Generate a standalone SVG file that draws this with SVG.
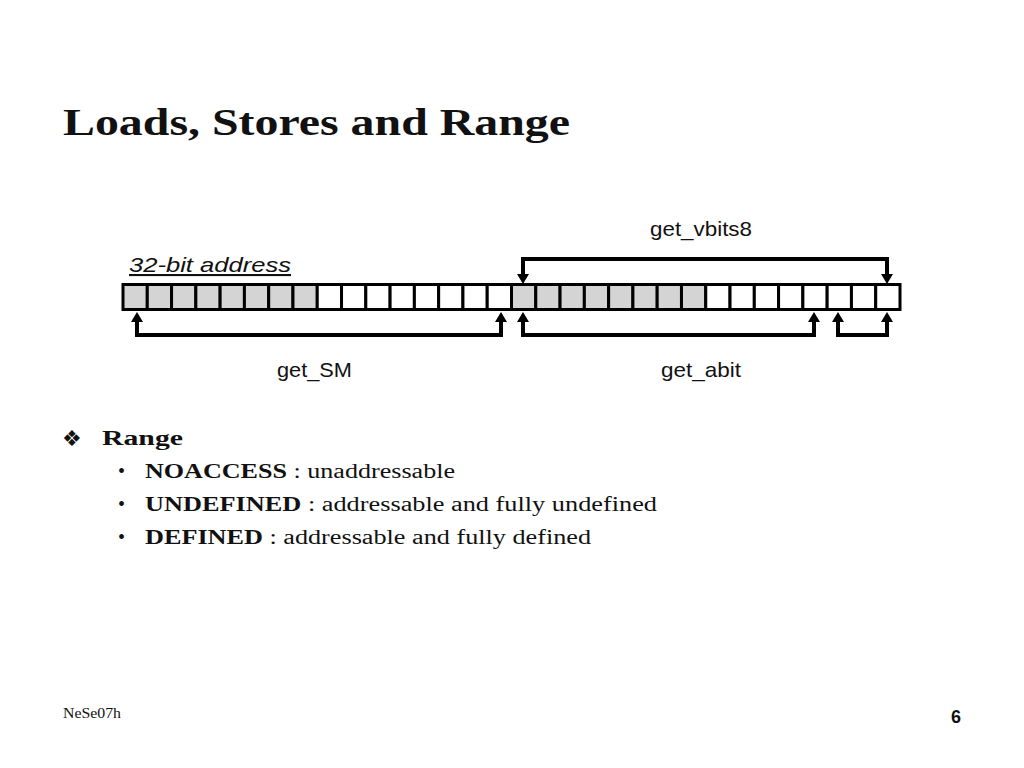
<svg xmlns="http://www.w3.org/2000/svg" width="1024" height="768" viewBox="0 0 1024 768">
<style>
.title{font-family:"Liberation Serif",serif;font-weight:bold;font-size:37px;fill:#111}
.lbl{font-family:"Liberation Sans",Arial,sans-serif;font-size:21px;fill:#111}
.body{font-family:"Liberation Serif",serif;font-size:20px;fill:#111}
.b{font-weight:bold}
.g{fill:#d4d4d4}
.w{fill:#fff}
.cell{stroke:#000;stroke-width:3}
.conn{fill:none;stroke:#000;stroke-width:4;stroke-linejoin:miter}
</style>
<defs>
<marker id="ah" markerUnits="userSpaceOnUse" markerWidth="10" markerHeight="12" viewBox="0 0 10 12" refX="0" refY="6" orient="auto-start-reverse">
<path d="M0,0 L10,6 L0,12 z" fill="#000"/>
</marker>
</defs>
<rect width="1024" height="768" fill="#fff"/>
<text class="title" x="63" y="135" textLength="507" lengthAdjust="spacingAndGlyphs">Loads, Stores and Range</text>

<g id="address-label">
<text class="lbl" x="129" y="272" font-style="italic" text-decoration="underline" textLength="162" lengthAdjust="spacingAndGlyphs">32-bit address</text>
</g>

<g id="bitbar">
<rect class="cell g" x="123" y="284.5" width="24.28" height="25"/>
<rect class="cell g" x="147.28" y="284.5" width="24.28" height="25"/>
<rect class="cell g" x="171.56" y="284.5" width="24.28" height="25"/>
<rect class="cell g" x="195.84" y="284.5" width="24.28" height="25"/>
<rect class="cell g" x="220.13" y="284.5" width="24.28" height="25"/>
<rect class="cell g" x="244.41" y="284.5" width="24.28" height="25"/>
<rect class="cell g" x="268.69" y="284.5" width="24.28" height="25"/>
<rect class="cell g" x="292.97" y="284.5" width="24.28" height="25"/>
<rect class="cell w" x="317.25" y="284.5" width="24.28" height="25"/>
<rect class="cell w" x="341.53" y="284.5" width="24.28" height="25"/>
<rect class="cell w" x="365.81" y="284.5" width="24.28" height="25"/>
<rect class="cell w" x="390.09" y="284.5" width="24.28" height="25"/>
<rect class="cell w" x="414.38" y="284.5" width="24.28" height="25"/>
<rect class="cell w" x="438.66" y="284.5" width="24.28" height="25"/>
<rect class="cell w" x="462.94" y="284.5" width="24.28" height="25"/>
<rect class="cell w" x="487.22" y="284.5" width="24.28" height="25"/>
<rect class="cell g" x="511.5" y="284.5" width="24.28" height="25"/>
<rect class="cell g" x="535.78" y="284.5" width="24.28" height="25"/>
<rect class="cell g" x="560.06" y="284.5" width="24.28" height="25"/>
<rect class="cell g" x="584.34" y="284.5" width="24.28" height="25"/>
<rect class="cell g" x="608.63" y="284.5" width="24.28" height="25"/>
<rect class="cell g" x="632.91" y="284.5" width="24.28" height="25"/>
<rect class="cell g" x="657.19" y="284.5" width="24.28" height="25"/>
<rect class="cell g" x="681.47" y="284.5" width="24.28" height="25"/>
<rect class="cell w" x="705.75" y="284.5" width="24.28" height="25"/>
<rect class="cell w" x="730.03" y="284.5" width="24.28" height="25"/>
<rect class="cell w" x="754.31" y="284.5" width="24.28" height="25"/>
<rect class="cell w" x="778.59" y="284.5" width="24.28" height="25"/>
<rect class="cell w" x="802.88" y="284.5" width="24.28" height="25"/>
<rect class="cell w" x="827.16" y="284.5" width="24.28" height="25"/>
<rect class="cell w" x="851.44" y="284.5" width="24.28" height="25"/>
<rect class="cell w" x="875.72" y="284.5" width="24.28" height="25"/>
</g>

<g id="connectors">
<path id="c-vbits8" class="conn" d="M523,274 V259 H887 V274" marker-start="url(#ah)" marker-end="url(#ah)"/>
<path id="c-sm" class="conn" d="M137,322 V335 H501 V322" marker-start="url(#ah)" marker-end="url(#ah)"/>
<path id="c-abit1" class="conn" d="M523,322 V335 H814 V322" marker-start="url(#ah)" marker-end="url(#ah)"/>
<path id="c-abit2" class="conn" d="M838,322 V335 H887 V322" marker-start="url(#ah)" marker-end="url(#ah)"/>
</g>

<g id="label-vbits8"><text class="lbl" x="701" y="236" text-anchor="middle" textLength="102" lengthAdjust="spacingAndGlyphs">get_vbits8</text></g>
<g id="label-sm"><text class="lbl" x="314.5" y="377" text-anchor="middle" textLength="75" lengthAdjust="spacingAndGlyphs">get_SM</text></g>
<g id="label-abit"><text class="lbl" x="701" y="377" text-anchor="middle" textLength="80" lengthAdjust="spacingAndGlyphs">get_abit</text></g>

<g id="range-list">
<text x="62" y="446" font-family="DejaVu Sans,sans-serif" font-size="22" fill="#111">❖</text>
<text class="body b" x="102" y="445" font-size="23" textLength="81" lengthAdjust="spacingAndGlyphs">Range</text>
<text class="body" x="118" y="478" font-size="16">•</text>
<text class="body" x="145" y="478" textLength="310" lengthAdjust="spacingAndGlyphs"><tspan class="b">NOACCESS</tspan> : unaddressable</text>
<text class="body" x="118" y="511" font-size="16">•</text>
<text class="body" x="145" y="511" textLength="512" lengthAdjust="spacingAndGlyphs"><tspan class="b">UNDEFINED</tspan> : addressable and fully undefined</text>
<text class="body" x="118" y="544" font-size="16">•</text>
<text class="body" x="145" y="544" textLength="446" lengthAdjust="spacingAndGlyphs"><tspan class="b">DEFINED</tspan> : addressable and fully defined</text>
</g>

<text x="63" y="718" font-family="Liberation Serif,serif" font-size="14" fill="#111" textLength="58" lengthAdjust="spacingAndGlyphs">NeSe07h</text>
<text x="951" y="723" font-family="Liberation Sans,Arial,sans-serif" font-weight="bold" font-size="18" fill="#111">6</text>
</svg>
